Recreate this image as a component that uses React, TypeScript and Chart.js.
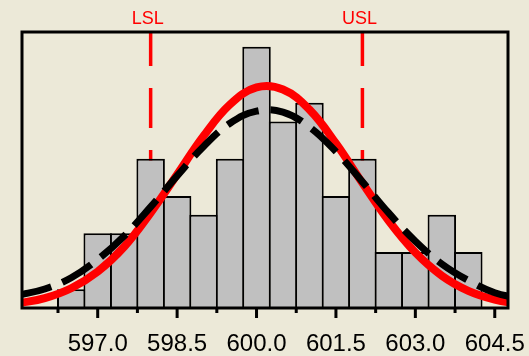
import { useEffect, useRef } from "react";
import { Chart, registerables } from "chart.js";

Chart.register(...registerables);

// Histogram bins (centres) and counts
const BIN_CENTERS = [596.5, 597.0, 597.5, 598.0, 598.5, 599.0, 599.5, 600.0, 600.5, 601.0, 601.5, 602.0, 602.5, 603.0, 603.5, 604.0];
const COUNTS = [1, 4, 4, 8, 6, 5, 8, 14, 10, 11, 6, 8, 3, 3, 5, 3];

// Fitted curves
const CURVE_X = [595.5, 596.0, 596.5, 597.0, 597.5, 598.0, 598.5, 599.0, 599.5, 600.0, 600.5, 601.0, 601.5, 602.0, 602.5, 603.0, 603.5, 604.0, 604.5, 605.0];
const WITHIN_FIT = [0.25, 0.53, 1.06, 1.95, 3.28, 5.1, 7.15, 9.22, 10.91, 11.82, 11.71, 10.63, 8.82, 6.7, 4.66, 2.97, 1.73, 0.92, 0.45, 0.2];
const OVERALL_FIT = [0.68, 1.02, 1.62, 2.6, 3.86, 5.42, 7.08, 8.66, 9.9, 10.55, 10.5, 9.7, 8.38, 6.76, 5.08, 3.58, 2.36, 1.48, 0.82, 0.5];

// Axis ticks
const MAJOR_TICKS = [597.0, 598.5, 600.0, 601.5, 603.0, 604.5];
const MINOR_TICKS = [596.25, 597.75, 599.25, 600.75, 602.25, 603.75];
const TICK_LABELS = ["597.0", "598.5", "600.0", "601.5", "603.0", "604.5"];

// Spec limits
const SPEC_VALUES = [598.0, 602.0];
const SPEC_LABELS = ["LSL", "USL"];

const X_MIN = 595.57;
const X_MAX = 604.75;
const Y_MAX = 14.79;

const FONT = '"Liberation Sans", Arial, sans-serif';

export default function App() {
  const ref = useRef<HTMLCanvasElement | null>(null);

  useEffect(() => {
    document.body.style.margin = "0";
    const canvas = ref.current;
    if (!canvas) return;

    const specPlugin = {
      id: "specLines",
      beforeDatasetsDraw(chart: any) {
        const { ctx, chartArea } = chart;
        const xs = chart.scales.x;
        ctx.save();
        ctx.strokeStyle = "#ff0000";
        ctx.lineWidth = 3.5;
        ctx.setLineDash([40, 22]);
        ctx.lineDashOffset = 6;
        SPEC_VALUES.forEach((v) => {
          const x = xs.getPixelForValue(v);
          ctx.beginPath();
          ctx.moveTo(x, chartArea.top);
          ctx.lineTo(x, chartArea.bottom);
          ctx.stroke();
        });
        ctx.restore();
      },
      afterDatasetsDraw(chart: any) {
        const { ctx, chartArea } = chart;
        const xs = chart.scales.x;
        ctx.save();
        ctx.strokeStyle = "#000";
        ctx.lineWidth = 3;
        ctx.strokeRect(chartArea.left, chartArea.top, chartArea.right - chartArea.left, chartArea.bottom - chartArea.top);
        ctx.lineWidth = 3;
        ctx.beginPath();
        MAJOR_TICKS.forEach((v) => {
          const x = xs.getPixelForValue(v);
          ctx.moveTo(x, chartArea.bottom);
          ctx.lineTo(x, chartArea.bottom + 10);
        });
        MINOR_TICKS.forEach((v) => {
          const x = xs.getPixelForValue(v);
          ctx.moveTo(x, chartArea.bottom);
          ctx.lineTo(x, chartArea.bottom + 5);
        });
        ctx.stroke();
        ctx.restore();
      },
      afterDraw(chart: any) {
        const { ctx } = chart;
        const xs = chart.scales.x;
        ctx.save();
        ctx.fillStyle = "#ff0000";
        ctx.font = `18px ${FONT}`;
        ctx.textAlign = "center";
        ctx.textBaseline = "alphabetic";
        SPEC_VALUES.forEach((v, i) => {
          const x = xs.getPixelForValue(v);
          ctx.fillText(SPEC_LABELS[i], x - 3, 24);
        });
        ctx.restore();
      },
    };

    const chart = new Chart(canvas, {
      type: "bar",
      data: {
        datasets: [
          {
            type: "line",
            label: "Overall",
            data: CURVE_X.map((x, i) => ({ x, y: OVERALL_FIT[i] })),
            borderColor: "#000000",
            borderWidth: 7,
            borderDash: [34, 12],
            pointRadius: 0,
            tension: 0.4,
            fill: false,
            order: 0,
            clip: { left: 0, right: 0, top: 0, bottom: 4 } as any,
          },
          {
            type: "line",
            label: "Within",
            data: CURVE_X.map((x, i) => ({ x, y: WITHIN_FIT[i] })),
            borderColor: "#ff0000",
            borderWidth: 8,
            pointRadius: 0,
            tension: 0.4,
            fill: false,
            order: 1,
            clip: { left: 0, right: 0, top: 0, bottom: 4 } as any,
          },
          {
            type: "bar",
            label: "Counts",
            data: BIN_CENTERS.map((x, i) => ({ x, y: COUNTS[i] })),
            backgroundColor: "#c0c0c0",
            borderColor: "#000000",
            borderWidth: 2,
            barPercentage: 1.076,
            categoryPercentage: 1,
            order: 2,
          } as any,
        ],
      },
      options: {
        animation: false,
        responsive: true,
        maintainAspectRatio: false,
        layout: { padding: { top: 32, left: 22, right: 21, bottom: 0 } },
        plugins: {
          legend: { display: false },
          tooltip: { enabled: false },
        },
        scales: {
          x: {
            type: "linear",
            offset: false,
            min: X_MIN,
            max: X_MAX,
            grid: { display: false, offset: false },
            border: { display: false },
            afterBuildTicks: (s: any) => {
              s.ticks = MAJOR_TICKS.map((v) => ({ value: v }));
            },
            afterFit: (s: any) => {
              s.height = 48;
              s.paddingLeft = 0;
              s.paddingRight = 0;
            },
            ticks: {
              autoSkip: false,
              maxRotation: 0,
              padding: 14,
              color: "#000",
              font: { size: 24, family: FONT },
              callback: (_v: any, i: number) => TICK_LABELS[i],
            },
          },
          y: {
            type: "linear",
            min: 0,
            max: Y_MAX,
            display: false,
          },
        },
      },
      plugins: [specPlugin],
    });

    return () => chart.destroy();
  }, []);

  return (
    <div style={{ width: 529, height: 356, background: "#ece9d8", position: "relative" }}>
      <canvas ref={ref} />
    </div>
  );
}
